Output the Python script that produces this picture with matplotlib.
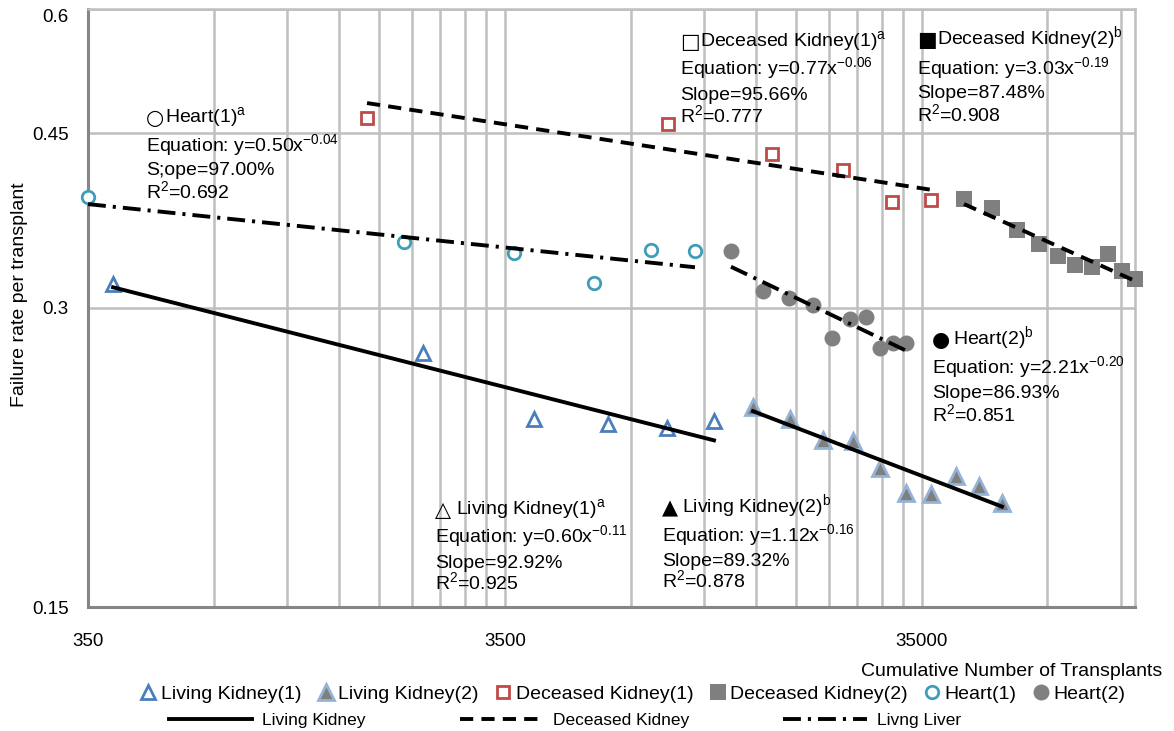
import matplotlib
matplotlib.use('Agg')
import matplotlib.pyplot as plt
from matplotlib.lines import Line2D
from matplotlib.ticker import FixedLocator, FixedFormatter, NullFormatter, NullLocator
import numpy as np

plt.rcParams['font.family'] = ['Liberation Sans', 'DejaVu Sans']
plt.rcParams['mathtext.fontset'] = 'custom'
plt.rcParams['mathtext.rm'] = 'Liberation Sans'

# valores (numero acumulado de trasplantes, tasa de fallo)
lk1_x = [402, 2226, 4109, 6180, 8562, 11100]
lk1_y = [0.317, 0.270, 0.232, 0.229, 0.227, 0.231]
lk2_x = [13770, 16890, 20260, 23910, 27760, 32040, 36790, 42220, 47950, 54440]
lk2_y = [0.2385, 0.232, 0.221, 0.2205, 0.207, 0.1955, 0.195, 0.203, 0.1986, 0.191]
dk1_x = [1634, 8610, 15280, 22630, 29650, 36790]
dk1_y = [0.466, 0.460, 0.429, 0.413, 0.384, 0.385]
dk2_x = [44140, 51520, 59150, 66790, 74170, 81490, 89470, 97740, 105600, 113500]
dk2_y = [0.386, 0.378, 0.3596, 0.348, 0.3386, 0.3315, 0.330, 0.340, 0.327, 0.321]
h1_x = [350, 2004, 3678, 5724, 7838, 9993]
h1_y = [0.388, 0.3497, 0.341, 0.318, 0.343, 0.342]
h2_x = [12190, 14550, 16790, 19170, 21290, 23520, 25690, 27760, 29820, 32040]
h2_y = [0.342, 0.312, 0.307, 0.302, 0.280, 0.2925, 0.294, 0.2735, 0.2767, 0.2767]

x_ticks = [350, 3500, 35000]
x_tick_labels = ['350', '3500', '35000']
y_ticks = [0.15, 0.3, 0.45, 0.6]
y_tick_labels = ['0.15', '0.3', '0.45', '0.6']

series_labels = ['Living Kidney(1)', 'Living Kidney(2)', 'Deceased Kidney(1)',
                 'Deceased Kidney(2)', 'Heart(1)', 'Heart(2)']
trend_labels = ['Living Kidney', 'Deceased Kidney', 'Livng Liver']

# textos de las ecuaciones
notas = [
    ('○', 'Heart(1)$^{\\mathregular{a}}$',
     ['Equation: y=0.50x$^{\\mathregular{-0.04}}$', 'S;ope=97.00%', 'R$^{\\mathregular{2}}$=0.692']),
    ('□', 'Deceased Kidney(1)$^{\\mathregular{a}}$',
     ['Equation: y=0.77x$^{\\mathregular{-0.06}}$', 'Slope=95.66%', 'R$^{\\mathregular{2}}$=0.777']),
    ('■', 'Deceased Kidney(2)$^{\\mathregular{b}}$',
     ['Equation: y=3.03x$^{\\mathregular{-0.19}}$', 'Slope=87.48%', 'R$^{\\mathregular{2}}$=0.908']),
    ('●', 'Heart(2)$^{\\mathregular{b}}$',
     ['Equation: y=2.21x$^{\\mathregular{-0.20}}$', 'Slope=86.93%', 'R$^{\\mathregular{2}}$=0.851']),
    ('△', 'Living Kidney(1)$^{\\mathregular{a}}$',
     ['Equation: y=0.60x$^{\\mathregular{-0.11}}$', 'Slope=92.92%', 'R$^{\\mathregular{2}}$=0.925']),
    ('▲', 'Living Kidney(2)$^{\\mathregular{b}}$',
     ['Equation: y=1.12x$^{\\mathregular{-0.16}}$', 'Slope=89.32%', 'R$^{\\mathregular{2}}$=0.878']),
]
# posiciones en pixeles: x simbolo, x texto, linea base titulo, lineas base cuerpo
pos_notas = [
    (146, 165, 123, [152, 175, 199]),
    (680, 700, 47, [75, 100, 123]),
    (917, 937, 45, [75, 98, 122]),
    (932, 953, 345, [374, 398, 422]),
    (435, 456, 515, [543, 568, 590]),
    (662, 682, 513, [542, 566, 588]),
]

W, H = 1174, 731
fig = plt.figure(figsize=(W / 100, H / 100), dpi=100)
ax = fig.add_axes([88 / W, 1 - 607 / H, (1135 - 88) / W, (607 - 9) / H])
ax.set_xscale('log')
ax.set_yscale('log')

# estilos
lw = 2.8
dash = (0, (3.4, 2.1))
dashdot = (0, (4.6, 1.8, 0.8, 1.8))
mk = dict(ls='none', clip_on=False, zorder=3)
estilo_lk1 = dict(marker='^', ms=10, mew=2, mfc='white', mec='#4A7EBB')
estilo_lk2 = dict(marker='^', ms=11, mew=2, mfc='#7F7F7F', mec='#95B3D7')
estilo_dk1 = dict(marker='s', ms=8.5, mew=2, mfc='white', mec='#BE4B48')
estilo_dk2 = dict(marker='s', ms=11, mew=0, mfc='#7F7F7F', mec='#7F7F7F')
estilo_h1 = dict(marker='o', ms=9, mew=2, mfc='white', mec='#3E9EB8')
estilo_h2 = dict(marker='o', ms=11.5, mew=0, mfc='#808080', mec='#808080')

ax.plot(lk1_x, lk1_y, **estilo_lk1, **mk)
ax.plot(lk2_x, lk2_y, **estilo_lk2, **mk)
ax.plot(dk1_x, dk1_y, **estilo_dk1, **mk)
ax.plot(dk2_x, dk2_y, **estilo_dk2, **mk)
ax.plot(h1_x, h1_y, **estilo_h1, **mk)
ax.plot(h2_x, h2_y, **estilo_h2, **mk)


# linea de tendencia potencial (ajuste en log-log)
def tendencia(x, y):
    b, a = np.polyfit(np.log10(x), np.log10(y), 1)
    xs = np.geomspace(min(x), max(x), 50)
    return xs, 10 ** a * xs ** b


for x, y, ls in [(lk1_x, lk1_y, '-'), (lk2_x, lk2_y, '-'),
                 (dk1_x, dk1_y, dash), (dk2_x, dk2_y, dash),
                 (h1_x, h1_y, dashdot), (h2_x, h2_y, dashdot)]:
    xs, ys = tendencia(x, y)
    ax.plot(xs, ys, color='black', lw=lw, ls=ls, zorder=4, clip_on=False)

# ejes
ax.set_xlim(350, 113500)
ax.set_ylim(0.15, 0.6)
x_grid = [350 * k for k in range(2, 10)] + [3500 * k for k in range(2, 10)] + [70000, 105000]
ax.xaxis.set_major_locator(FixedLocator(x_ticks))
ax.xaxis.set_major_formatter(FixedFormatter(x_tick_labels))
ax.xaxis.set_minor_locator(FixedLocator(x_grid))
ax.xaxis.set_minor_formatter(NullFormatter())
ax.yaxis.set_major_locator(FixedLocator(y_ticks))
ax.yaxis.set_major_formatter(FixedFormatter(y_tick_labels))
ax.yaxis.set_minor_locator(NullLocator())
ax.set_axisbelow(True)
ax.grid(True, which='both', axis='x', color='#BFBFBF', lw=1.8)
ax.grid(True, which='major', axis='y', color='#BFBFBF', lw=1.8)
ax.tick_params(axis='both', which='both', length=0, labelsize=13.5)
ax.tick_params(axis='y', pad=14)
ax.tick_params(axis='x', pad=19)
for s in ['left', 'bottom']:
    ax.spines[s].set_color('#868686')
    ax.spines[s].set_linewidth(2.2)
for s in ['top', 'right']:
    ax.spines[s].set_color('#BFBFBF')
    ax.spines[s].set_linewidth(1.8)
ax.get_yticklabels()[-1].set_va('top')

ax.set_ylabel('Failure rate per transplant', fontsize=14, va='center')
ax.yaxis.set_label_coords((19 - 88) / 1047, (607 - 295) / 598)
ax.set_xlabel('Cumulative Number of Transplants', fontsize=14, ha='right', va='center')
ax.xaxis.set_label_coords((1162 - 88) / 1047, (607 - 672) / 598)

# textos de las ecuaciones
for (sim, titulo, cuerpo), (xs, xt, yb, ycs) in zip(notas, pos_notas):
    fig.text(xs / W, 1 - (yb + 1) / H, sim, fontsize=15, family='DejaVu Sans', va='baseline')
    fig.text(xt / W, 1 - yb / H, titulo, fontsize=14, va='baseline')
    for linea, yc in zip(cuerpo, ycs):
        fig.text(xs / W, 1 - yc / H, linea, fontsize=14, va='baseline')

# leyendas
h_series = [Line2D([], [], ls='none', **e) for e in
            [estilo_lk1, estilo_lk2, estilo_dk1, estilo_dk2, estilo_h1, estilo_h2]]
fig.legend(h_series, series_labels, loc='center', bbox_to_anchor=(632 / W, 1 - 694 / H),
           ncol=6, frameon=False, fontsize=14, handlelength=1.0, handletextpad=0.15,
           columnspacing=0.75, borderpad=0, borderaxespad=0, numpoints=1)
h_trend = [Line2D([], [], color='black', lw=lw, ls=l) for l in ['-', dash, dashdot]]
fig.legend(h_trend, trend_labels, loc='center', bbox_to_anchor=(565 / W, 1 - 720 / H),
           ncol=3, frameon=False, fontsize=12.5, handlelength=4.8, handletextpad=0.6,
           columnspacing=5.4, borderpad=0, borderaxespad=0)

fig.savefig('out.png', dpi=100)
